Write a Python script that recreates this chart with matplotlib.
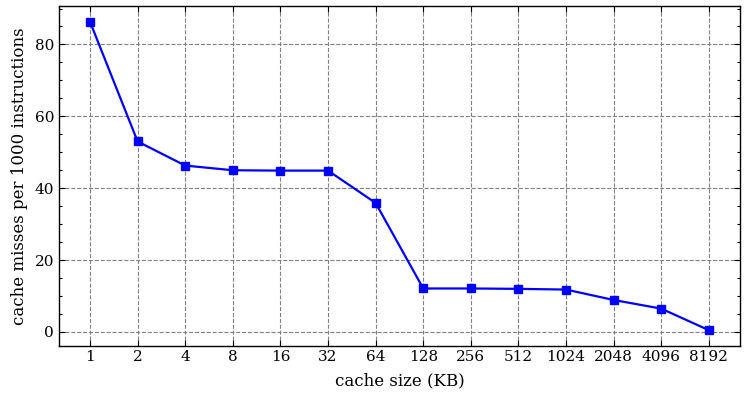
#!/usr/bin/env python3
"""Cache misses per 1000 instructions vs cache size."""

import matplotlib

matplotlib.use("Agg")
import matplotlib.pyplot as plt
from matplotlib.ticker import AutoMinorLocator

cache_sizes = ["1", "2", "4", "8", "16", "32", "64", "128", "256", "512",
               "1024", "2048", "4096", "8192"]
misses = [86.3, 53.0, 46.3, 45.0, 44.9, 44.9, 35.9, 12.1, 12.1, 12.0,
          11.8, 8.9, 6.5, 0.5]


def main() -> None:
    plt.rcParams["font.family"] = "DejaVu Serif"
    plt.rcParams["mathtext.fontset"] = "dejavuserif"

    fig = plt.figure(figsize=(7.48, 4.0), dpi=100)
    ax = fig.add_axes([0.079, 0.136, 0.91, 0.848])

    ax.plot(cache_sizes, misses, color="blue", marker="s", markersize=6,
            linewidth=1.6)

    ax.set_xlabel("cache size (KB)", fontsize=12, labelpad=6)
    ax.set_ylabel("cache misses per 1000 instructions", fontsize=12, labelpad=5)
    ax.set_yticks([0, 20, 40, 60, 80])
    ax.yaxis.set_minor_locator(AutoMinorLocator(4))
    ax.tick_params(which="both", direction="in", top=True, right=True,
                   labelsize=11)
    ax.tick_params(which="major", length=4, width=0.8)
    ax.tick_params(which="minor", length=2, width=0.8)
    ax.grid(True, which="major", linestyle="--", color="gray", linewidth=0.8)
    for spine in ax.spines.values():
        spine.set_linewidth(1.0)

    fig.savefig("out.png", dpi=100)
    plt.close(fig)


if __name__ == "__main__":
    main()
